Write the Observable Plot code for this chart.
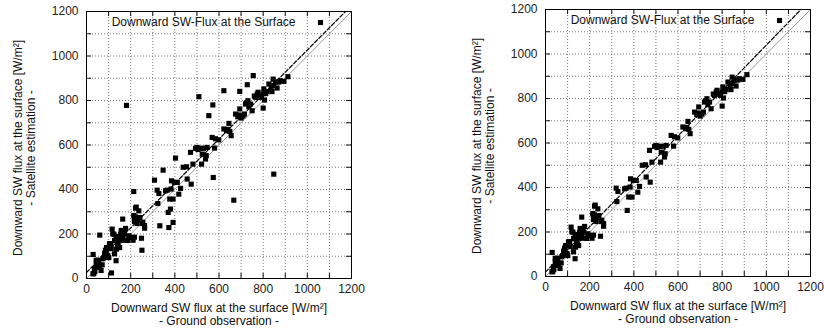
<!DOCTYPE html>
<html>
<head>
<meta charset="utf-8">
<script src="https://cdn.jsdelivr.net/npm/d3@7"></script>
<script src="https://cdn.jsdelivr.net/npm/@observablehq/plot@0.6"></script>
<style>
  body { margin: 0; background: #fff; }
  #wrap { position: relative; width: 824px; height: 328px; overflow: hidden; background: #fff; }
  #left, #right { position: absolute; top: 0; }
  #left { left: 0; }
  #right { left: 412px; }
</style>
</head>
<body>
<div id="wrap"><div id="left"></div><div id="right"></div></div>
<script>
// Text
const legendLabel = "Downward SW-Flux at the Surface";
const xLabel = ["Downward SW flux at the surface [W/m\u00b2]", "- Ground observation -"];
const yLabel = ["Downward SW flux at the surface [W/m\u00b2]", "- Satellite estimation -"];

// Axes: labelled ticks and grid / minor tick positions (W/m²)
const tickLabels = [0, 200, 400, 600, 800, 1000, 1200];
const gridSteps = [0, 100, 200, 300, 400, 500, 600, 700, 800, 900, 1000, 1100, 1200];

// Matched samples [ground observation, satellite estimation] kept after screening
const screenedPairs = [
  [33, 22], [29, 21], [38, 31], [36, 44], [30, 108], [48, 50], [44, 66], [51, 81], [44, 82], [56, 82],
  [59, 59], [66, 36], [71, 61], [74, 89], [78, 94], [86, 127], [89, 126], [91, 139], [82, 114], [94, 104],
  [97, 102], [101, 94], [104, 156], [109, 157], [112, 134], [116, 222], [119, 201], [124, 199], [127, 171], [127, 111],
  [131, 169], [134, 189], [136, 132], [134, 80], [142, 154], [142, 149], [146, 181], [149, 174], [150, 139], [154, 199],
  [157, 216], [157, 172], [164, 186], [164, 267], [166, 214], [169, 199], [172, 172], [172, 201], [177, 225], [187, 171],
  [192, 192], [199, 184], [211, 172], [217, 186], [214, 283], [217, 273], [222, 316], [222, 277], [217, 256], [225, 321],
  [229, 247], [232, 264], [237, 304], [242, 274], [249, 181], [252, 247], [255, 253], [263, 226], [263, 238],
  [320, 397], [323, 337], [328, 382], [358, 394], [365, 397], [370, 297], [377, 357], [383, 402], [385, 439], [392, 357],
  [398, 432], [411, 432], [418, 379], [426, 405], [438, 500], [453, 502], [456, 447], [471, 567], [474, 424], [482, 514],
  [494, 585], [501, 589], [505, 580], [516, 585], [524, 559], [521, 514], [530, 585], [542, 552], [546, 589], [539, 537],
  [569, 634], [580, 586], [584, 628], [599, 623],
  [622, 672], [634, 664], [640, 670], [645, 697], [649, 661], [655, 642], [675, 739], [685, 727], [690, 735], [694, 762],
  [700, 721], [708, 730], [715, 739], [720, 784], [725, 790], [731, 799], [735, 772], [743, 784], [750, 754], [760, 820],
  [765, 814], [773, 829], [777, 837], [780, 820], [792, 814], [800, 766], [800, 830], [803, 852], [806, 802], [811, 832],
  [818, 841], [826, 874], [836, 856], [840, 840], [845, 896], [848, 868], [856, 883], [863, 856], [871, 883], [878, 889],
  [894, 886], [912, 907]
];

// Samples removed by the screening (shown only in the unscreened panel)
const rejectedPairs = [
  [60, 195], [113, 25], [181, 778], [214, 391], [251, 127], [308, 442], [332, 237], [347, 487], [373, 229], [380, 312],
  [392, 252], [403, 541], [509, 817], [554, 732], [572, 780], [574, 454], [622, 844], [667, 352], [694, 841], [728, 871],
  [755, 912], [848, 469]
];

// Linear fits [slope, intercept]
const fitAll = [1.0, 27];
const fitScreened = [1.02, 20];

const FONT = '"Liberation Sans", Arial, Helvetica, sans-serif';
const txt = {fontFamily: FONT, fontSize: 12, fill: "#111"};

function panel({points, fit, marginLeft, marginRight, marginTop, marginBottom, xTitleDy, yTitleDx}) {
  const W = 412, H = 328;
  const plotW = W - marginLeft - marginRight;
  const plotH = H - marginTop - marginBottom;
  const [m, b] = fit;
  const fitLine = [[0, b], [(1200 - b) / m, 1200]];
  const oneToOne = [[0, 0], [1200, 1200]];
  const sq = 2.9; // square marker "radius" (side ≈ 5px)
  return Plot.plot({
    width: W,
    height: H,
    marginLeft, marginRight, marginTop, marginBottom,
    x: {domain: [0, 1200], axis: null},
    y: {domain: [0, 1200], axis: null},
    style: {fontFamily: FONT, fontSize: "12px", color: "#111", background: "transparent", overflow: "visible"},
    marks: [
      // dotted grid
      Plot.gridX(gridSteps, {stroke: "#555", strokeOpacity: 1, strokeDasharray: "1,2", strokeWidth: 0.8}),
      Plot.gridY(gridSteps, {stroke: "#555", strokeOpacity: 1, strokeDasharray: "1,2", strokeWidth: 0.8}),
      // inward ticks on all four sides
      Plot.tickX(gridSteps, {x: d => d, insetTop: plotH - 5, stroke: "#111"}),
      Plot.tickX(gridSteps, {x: d => d, insetBottom: plotH - 5, stroke: "#111"}),
      Plot.tickY(gridSteps, {y: d => d, insetRight: plotW - 5, stroke: "#111"}),
      Plot.tickY(gridSteps, {y: d => d, insetLeft: plotW - 5, stroke: "#111"}),
      // 1:1 line and fitted line
      Plot.line(oneToOne, {x: d => d[0], y: d => d[1], stroke: "#999", strokeWidth: 1}),
      Plot.line(fitLine, {x: d => d[0], y: d => d[1], stroke: "#000", strokeWidth: 1.2, strokeDasharray: "4,2"}),
      // samples
      Plot.dot(points, {x: d => d[0], y: d => d[1], symbol: "square", r: sq, fill: "#000", stroke: "none"}),
      Plot.frame({stroke: "#000", strokeWidth: 1}),
      // tick labels
      Plot.text(tickLabels, {...txt, x: d => d, frameAnchor: "bottom", dy: 11, lineAnchor: "middle", text: d => String(d), fill: "#222"}),
      Plot.text(tickLabels, {...txt, y: d => d, frameAnchor: "left", dx: -8, textAnchor: "end", text: d => String(d), fill: "#222"}),
      // key
      Plot.text([legendLabel], {...txt, frameAnchor: "top-right", dx: -56, dy: 11, textAnchor: "end", lineAnchor: "middle", text: d => d}),
      Plot.dot([legendLabel], {frameAnchor: "top-right", dx: -31, dy: 11, symbol: "square", r: sq, fill: "#000", stroke: "none"}),
      // axis titles (two lines each)
      Plot.text([xLabel.join("\n")], {...txt, frameAnchor: "bottom", dy: xTitleDy, lineHeight: 1.1, lineAnchor: "middle", textAnchor: "middle", text: d => d}),
      Plot.text([yLabel.join("\n")], {...txt, frameAnchor: "left", rotate: -90, dx: yTitleDx, dy: 3, lineHeight: 1.08, textAnchor: "middle", text: d => d})
    ]
  });
}

document.getElementById("left").append(panel({
  points: screenedPairs.concat(rejectedPairs),
  fit: fitAll,
  marginLeft: 86, marginRight: 61, marginTop: 11, marginBottom: 50,
  xTitleDy: 35.5, yTitleDx: -62.5
}));

document.getElementById("right").append(panel({
  points: screenedPairs,
  fit: fitScreened,
  marginLeft: 133, marginRight: 14, marginTop: 9, marginBottom: 52,
  xTitleDy: 36, yTitleDx: -62.5
}));
</script>
</body>
</html>
